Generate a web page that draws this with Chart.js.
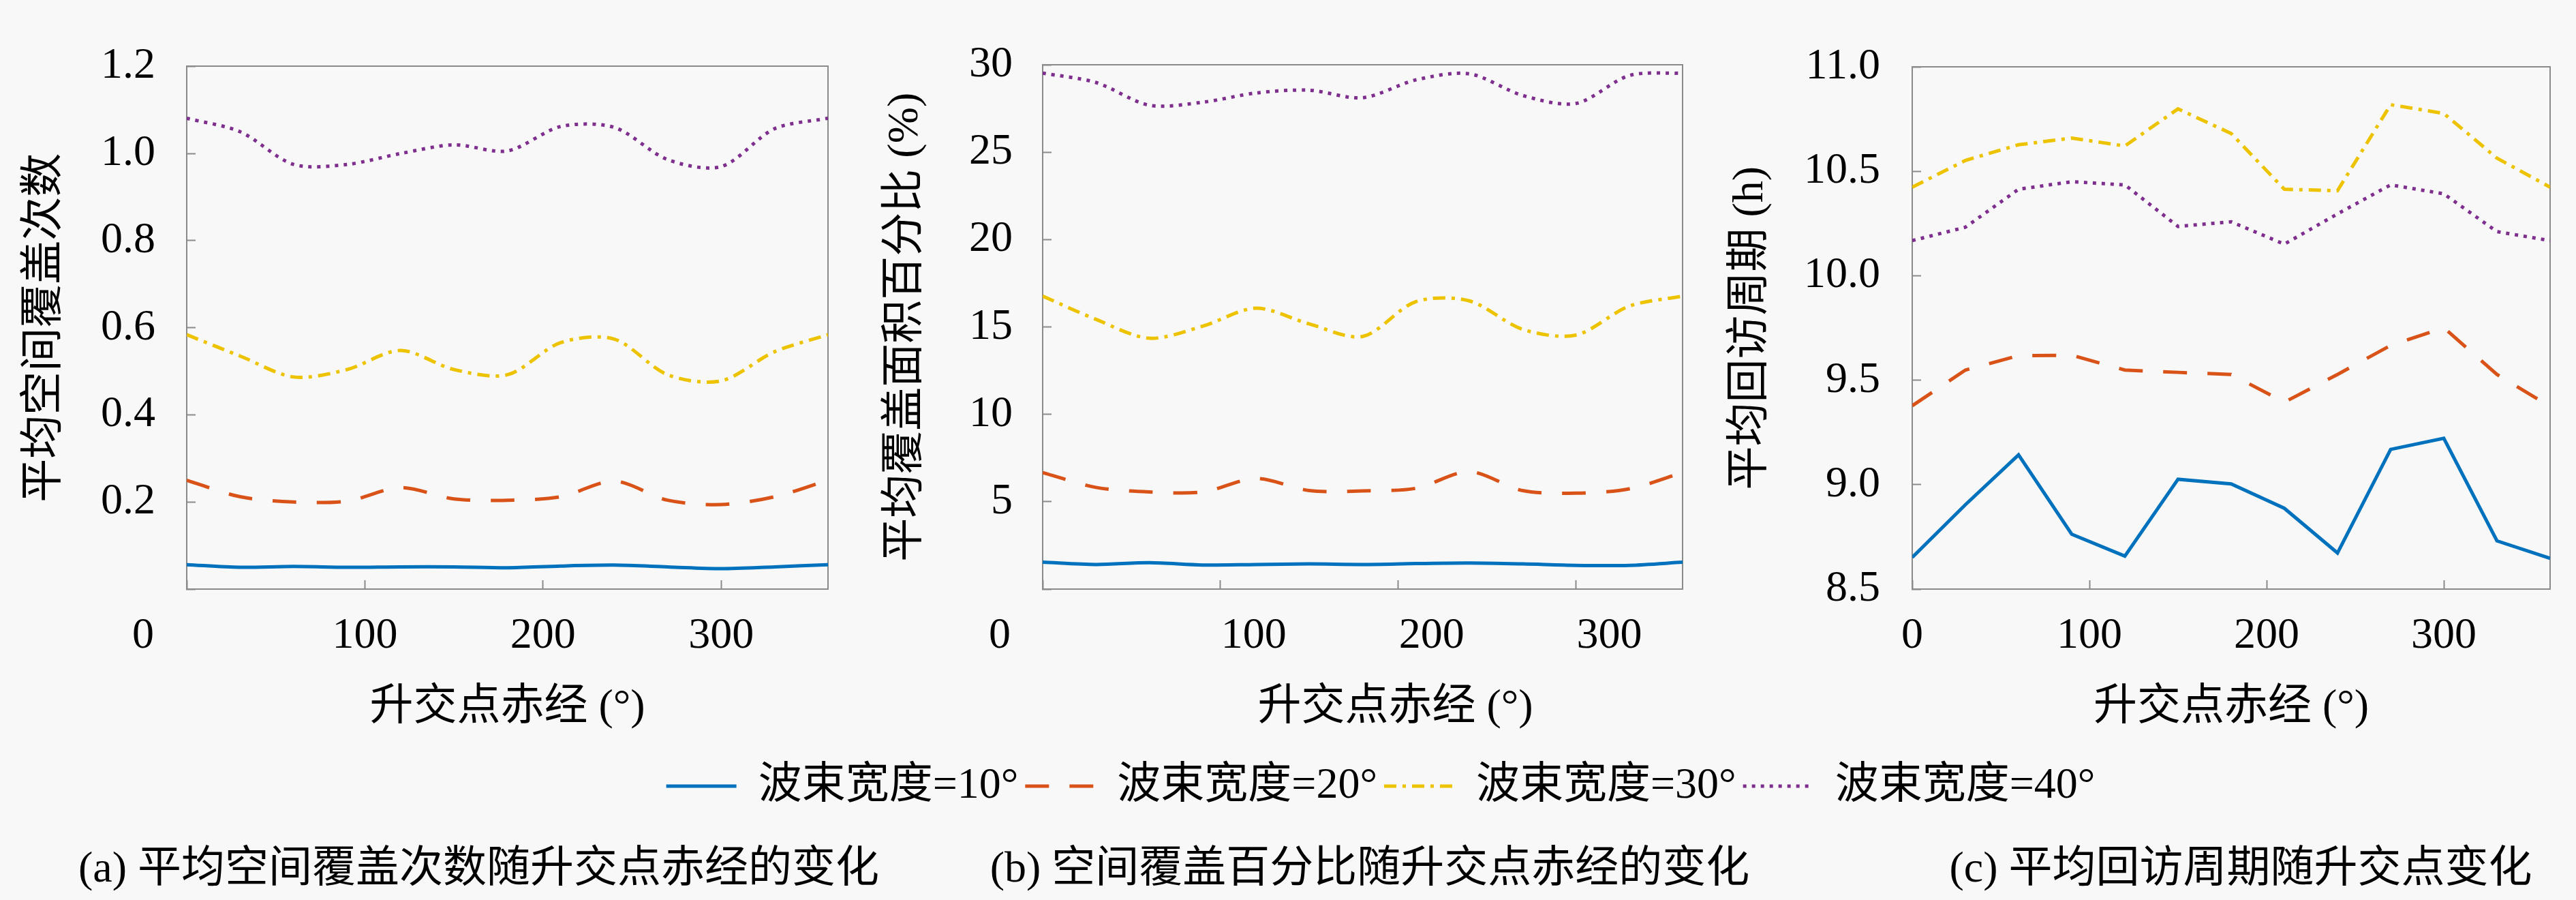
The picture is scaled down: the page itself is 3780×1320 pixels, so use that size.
<!DOCTYPE html>
<html><head><meta charset="utf-8">
<script src="https://cdn.jsdelivr.net/npm/chart.js@4.4.1/dist/chart.umd.min.js"></script>
<style>
html,body{margin:0;padding:0;background:#f8f8f8;width:3780px;height:1320px;overflow:hidden;position:relative}
canvas{position:absolute;top:0}
#warm{position:absolute;left:-9999px;top:0;font:64px 'Liberation Serif','DejaVu Serif','Noto Sans CJK SC',serif}
</style></head><body>
<span id="warm">0123456789.()=° 波束宽度 平均</span>
<canvas id="ca" width="1405" height="1320" style="left:0px"></canvas>
<canvas id="cb" width="1520" height="1320" style="left:1250px"></canvas>
<canvas id="cc" width="1576" height="1320" style="left:2500px"></canvas>
<canvas id="lg" width="3508" height="160" style="left:272px;top:1111px"></canvas>
<script>
// ---- data ----
const raan = [0, 30, 60, 90, 120, 150, 180, 210, 240, 270, 300, 330, 360];
const seriesLabels = ['波束宽度=10°', '波束宽度=20°', '波束宽度=30°', '波束宽度=40°'];

const coverTimes10 = [0.056, 0.050, 0.052, 0.050, 0.051, 0.051, 0.049, 0.053, 0.055, 0.051, 0.047, 0.051, 0.056];
const coverTimes20 = [0.250, 0.212, 0.200, 0.202, 0.233, 0.207, 0.204, 0.212, 0.248, 0.204, 0.194, 0.212, 0.250];
const coverTimes30 = [0.584, 0.535, 0.487, 0.504, 0.548, 0.504, 0.492, 0.566, 0.574, 0.492, 0.478, 0.545, 0.584];
const coverTimes40 = [1.081, 1.050, 0.975, 0.975, 1.000, 1.020, 1.006, 1.062, 1.060, 0.986, 0.970, 1.057, 1.081];

const coverPct10 = [1.54, 1.41, 1.51, 1.38, 1.41, 1.44, 1.41, 1.46, 1.49, 1.44, 1.36, 1.36, 1.54];
const coverPct20 = [6.67, 5.82, 5.56, 5.56, 6.33, 5.64, 5.62, 5.77, 6.72, 5.64, 5.49, 5.74, 6.67];
const coverPct30 = [16.77, 15.44, 14.36, 15.05, 16.08, 15.18, 14.46, 16.46, 16.50, 14.87, 14.54, 16.20, 16.77];
const coverPct40 = [29.54, 29.00, 27.70, 27.87, 28.40, 28.56, 28.13, 29.15, 29.50, 28.26, 27.80, 29.40, 29.54];

const revisit10 = [8.652, 8.904, 9.143, 8.763, 8.658, 9.026, 9.004, 8.887, 8.673, 9.169, 9.222, 8.731, 8.647];
const revisit20 = [9.378, 9.549, 9.618, 9.620, 9.549, 9.538, 9.528, 9.395, 9.528, 9.667, 9.752, 9.528, 9.374];
const revisit30 = [10.425, 10.553, 10.628, 10.660, 10.622, 10.800, 10.682, 10.415, 10.408, 10.820, 10.778, 10.564, 10.425];
const revisit40 = [10.169, 10.233, 10.415, 10.451, 10.436, 10.237, 10.259, 10.152, 10.297, 10.436, 10.393, 10.212, 10.169];

const xTicks = [0, 100, 200, 300];
const yTicksA = [0, 0.2, 0.4, 0.6, 0.8, 1.0, 1.2];
const yTicksB = [0, 5, 10, 15, 20, 25, 30];
const yTicksC = [8.5, 9.0, 9.5, 10.0, 10.5, 11.0];

const xTitle = '升交点赤经 (°)';
const yTitleA = '平均空间覆盖次数';
const yTitleB = '平均覆盖面积百分比 (%)';
const yTitleC = '平均回访周期 (h)';
const captionA = '(a) 平均空间覆盖次数随升交点赤经的变化';
const captionB = '(b) 空间覆盖百分比随升交点赤经的变化';
const captionC = '(c) 平均回访周期随升交点变化';

// ---- styles ----
const FONT = "'Liberation Serif', 'DejaVu Serif', 'Noto Sans CJK SC', serif";
const F64 = {family: FONT, size: 64, lineHeight: 1.2, weight: 'normal'};
Chart.defaults.font.family = FONT;
Chart.defaults.font.size = 64;
Chart.defaults.font.lineHeight = 1.2;
Chart.defaults.color = '#000';
const colors = ['#0072BD', '#D95319', '#EDC300', '#7E2F8E'];
const dashes = [[], [35, 30], [18, 9, 5, 9], [5, 8]];
const LW = 5;
const FRAME = '#8a8a8a';
const NB = '\u00A0';

function buildDatasets(list, tension) {
  return list.map((vals, i) => ({
    label: seriesLabels[i],
    data: raan.map((x, j) => ({x: x, y: vals[j]})),
    borderColor: colors[i], backgroundColor: colors[i],
    borderWidth: LW, borderDash: dashes[i],
    pointRadius: 0, pointHoverRadius: 0, tension: tension, fill: false,
    xAxisID: 'x', yAxisID: 'y'
  }));
}

const charts = [];

function makeChart(id, p) {
  const tickGrid = {display: true, drawOnChartArea: false, drawTicks: true, tickLength: -13, color: FRAME, tickWidth: 2};
  const scales = {
    x: {
      type: 'linear', position: 'bottom', min: 0, max: 360,
      afterBuildTicks: s => { s.ticks = xTicks.map(v => ({value: v})); },
      ticks: {padding: 43.6, labelOffset: p.xLabelOffset, maxRotation: 0, minRotation: 0, autoSkip: false, font: F64,
        callback: v => (v === 0) ? p.zeroLabel : String(v)},
      grid: tickGrid,
      border: {display: true, color: FRAME, width: 2},
      title: {display: true, text: p.xTitle, font: F64, padding: {top: 0, bottom: 7.6}},
      afterFit: s => { s.height = 220; }
    },
    y: {
      type: 'linear', position: 'left',
      min: p.yTicks[0], max: p.yTicks[p.yTicks.length - 1],
      afterBuildTicks: s => { s.ticks = p.yTicks.map(v => ({value: v})); },
      ticks: {padding: p.yLabelGap + 13, autoSkip: false, font: F64,
        callback: v => (p.hideY0 && v === 0) ? '' : v.toFixed(p.yDigits)},
      grid: tickGrid,
      border: {display: true, color: FRAME, width: 2},
      title: {display: true, text: p.yTitle, font: F64, padding: {top: p.yTitlePad, bottom: 0}},
      afterFit: s => { s.width = p.yWidth; }
    },
    yR: {
      type: 'linear', position: 'right', min: 0, max: 1,
      ticks: {display: false}, grid: {display: false, drawTicks: false},
      border: {display: true, color: FRAME, width: 2},
      afterFit: s => { s.width = p.rightWidth; }
    },
    xT: {
      type: 'linear', position: 'top', min: 0, max: 1,
      ticks: {display: false}, grid: {display: false, drawTicks: false},
      border: {display: true, color: FRAME, width: 2},
      afterFit: s => { s.height = 0; }
    }
  };
  const c = new Chart(document.getElementById(id), {
    type: 'line',
    data: {datasets: buildDatasets(p.series, p.tension)},
    options: {
      responsive: false, animation: false, devicePixelRatio: 1,
      layout: {padding: {top: 42, left: 0, right: 0, bottom: 0}},
      scales: scales,
      plugins: {
        legend: {display: false},
        tooltip: {enabled: false},
        title: {display: true, position: 'bottom', text: p.caption, color: '#000',
          font: F64, padding: {top: 154.2, bottom: 5}}
      }
    }
  });
  charts.push(c);
  return c;
}

makeChart('ca', {
  series: [coverTimes10, coverTimes20, coverTimes30, coverTimes40], tension: 0.3,
  yTicks: yTicksA, yDigits: 1, hideY0: true, xLabelOffset: 0,
  zeroLabel: '0' + NB.repeat(8),
  xTitle: xTitle, yTitle: yTitleA, caption: captionA,
  yWidth: 274, rightWidth: 190, yTitlePad: 27.6, yLabelGap: 46
});
makeChart('cb', {
  series: [coverPct10, coverPct20, coverPct30, coverPct40], tension: 0.3,
  yTicks: yTicksB, yDigits: 0, hideY0: true, xLabelOffset: 49,
  zeroLabel: '0' + NB.repeat(14),
  xTitle: NB.repeat(6) + xTitle, yTitle: yTitleB, caption: captionB,
  yWidth: 280, rightWidth: 301, yTitlePad: 40.6, yLabelGap: 44
});
makeChart('cc', {
  series: [revisit10, revisit20, revisit30, revisit40], tension: 0,
  yTicks: yTicksC, yDigits: 1, hideY0: false, xLabelOffset: 0,
  zeroLabel: '0',
  xTitle: xTitle, yTitle: yTitleC, caption: captionC,
  yWidth: 306, rightWidth: 334, yTitlePad: 30.6, yLabelGap: 47
});

// shared legend
charts.push(new Chart(document.getElementById('lg'), {
  type: 'line',
  data: {datasets: seriesLabels.map((l, i) => ({label: l, data: [], borderColor: colors[i],
    backgroundColor: colors[i], borderDash: dashes[i], borderWidth: LW}))},
  options: {
    responsive: false, animation: false, devicePixelRatio: 1,
    layout: {padding: 0},
    scales: {x: {display: false}, y: {display: false}},
    plugins: {
      tooltip: {enabled: false},
      legend: {
        display: true, position: 'top', align: 'center',
        labels: {
          usePointStyle: true, pointStyleWidth: 103, padding: 10, color: '#000',
          font: F64,
          generateLabels: chart => chart.data.datasets.map((d, i) => ({
            text: d.label, fillStyle: d.borderColor, strokeStyle: d.borderColor,
            lineWidth: d.borderWidth, lineDash: d.borderDash, pointStyle: 'line',
            hidden: false, datasetIndex: i, fontColor: '#000'
          }))
        }
      }
    }
  }
}));

if (document.fonts && document.fonts.ready) {
  document.fonts.ready.then(() => { charts.forEach(c => c.update('none')); });
}
</script>
</body></html>
